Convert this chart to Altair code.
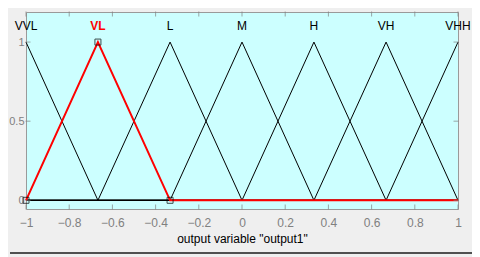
import altair as alt
import pandas as pd

# Membership functions (trimf params a, b, c)
mf_names = ["VVL", "VL", "L", "M", "H", "VH", "VHH"]
mf_a = [-1.333, -1.0, -0.667, -0.333, 0.0, 0.333, 0.667]
mf_b = [-1.0, -0.667, -0.333, 0.0, 0.333, 0.667, 1.0]
mf_c = [-0.667, -0.333, 0.0, 0.333, 0.667, 1.0, 1.333]
selected = "VL"

x_range = [-1.0, 1.0]
x_ticks = [-1.0, -0.8, -0.6, -0.4, -0.2, 0.0, 0.2, 0.4, 0.6, 0.8, 1.0]
y_ticks = [0.0, 0.5, 1.0]
label_level = 1.1
x_title = 'output variable "output1"'


def trimf(x, a, b, c):
    left = (x - a) / (b - a) if b != a else 1.0
    right = (c - x) / (c - b) if c != b else 1.0
    return max(min(left, right), 0.0)


rows = []
for name, a, b, c in zip(mf_names, mf_a, mf_b, mf_c):
    pts = sorted({x_range[0], x_range[1]} | {p for p in (a, b, c) if x_range[0] <= p <= x_range[1]})
    for i, px in enumerate(pts):
        rows.append({"name": name, "order": i, "x": px, "y": trimf(px, a, b, c)})
lines = pd.DataFrame(rows)

labels = pd.DataFrame({"name": mf_names, "x": mf_b, "y": [label_level] * len(mf_names)})

si = mf_names.index(selected)
sel_pts = pd.DataFrame({
    "x": [max(mf_a[si], x_range[0]), mf_b[si], min(mf_c[si], x_range[1])],
    "y": [0.0, 1.0, 0.0],
})
xt = pd.DataFrame({"x": x_ticks})
yt = pd.DataFrame({"y": y_ticks})

W, H = 432, 197
FONT = "Liberation Sans"

X = alt.X("x:Q", scale=alt.Scale(domain=x_range, nice=False, zero=False),
          axis=alt.Axis(values=x_ticks, format=".1~f", title=x_title, ticks=False, domain=False,
                        grid=False, labelColor="#808080", labelFontSize=12, labelFont=FONT,
                        labelPadding=8, labelFlush=False, labelOverlap=False,
                        titleFont=FONT, titleFontSize=12, titleFontWeight="normal",
                        titleColor="#000000", titlePadding=5))
Y = alt.Y("y:Q", scale=alt.Scale(domain=[-0.055, 1.19], nice=False, zero=False),
          axis=alt.Axis(values=y_ticks, format=".1~f", title=None, ticks=False, domain=False,
                        grid=False, labelColor="#808080", labelFontSize=11, labelFont=FONT,
                        labelPadding=2, labelFlush=False, labelOverlap=False))

black_lines = alt.Chart(lines).transform_filter(alt.datum.name != selected).mark_line(
    color="#000000", strokeWidth=1).encode(x=X, y=Y, detail="name:N", order="order:Q")
red_line = alt.Chart(lines).transform_filter(alt.datum.name == selected).mark_line(
    color="#ff0000", strokeWidth=2).encode(x=X, y=Y, order="order:Q")
squares = alt.Chart(sel_pts).mark_square(filled=False, size=36, color="#000000", strokeWidth=1).encode(x=X, y=Y)

txt_black = alt.Chart(labels).transform_filter(alt.datum.name != selected).mark_text(
    font=FONT, fontSize=12, color="#000000", baseline="middle", align="center").encode(x=X, y=Y, text="name:N")
txt_red = alt.Chart(labels).transform_filter(alt.datum.name == selected).mark_text(
    font=FONT, fontSize=12, fontWeight="bold", color="#ff0000", baseline="middle", align="center").encode(x=X, y=Y, text="name:N")

tick_col = "#808080"
bot_ticks = alt.Chart(xt).mark_tick(orient="vertical", size=5, thickness=1, color=tick_col).encode(x=X, y=alt.value(H - 2))
top_ticks = alt.Chart(xt).mark_tick(orient="vertical", size=5, thickness=1, color=tick_col).encode(x=X, y=alt.value(2))
left_ticks = alt.Chart(yt).mark_tick(orient="horizontal", size=5, thickness=1, color=tick_col).encode(y=Y, x=alt.value(2))
right_ticks = alt.Chart(yt).mark_tick(orient="horizontal", size=5, thickness=1, color=tick_col).encode(y=Y, x=alt.value(W - 2))

bottom_bar = alt.Chart(xt).mark_rule(color="#505050", strokeWidth=1.5).encode(
    x=alt.value(-16), x2=alt.value(W + 14), y=alt.value(241))

chart = alt.layer(
    black_lines, red_line, squares, txt_black, txt_red,
    bot_ticks, top_ticks, left_ticks, right_ticks, bottom_bar
).properties(
    width=W, height=H,
    autosize=alt.AutoSizeParams(type="none"),
    padding={"left": 18, "top": 4, "right": 14, "bottom": 48},
    background="#efefef",
).configure_view(fill="#ccffff", stroke="#9a9a9a", strokeWidth=1)

chart.save("out.html", embed_options={"renderer": "svg", "actions": False})
